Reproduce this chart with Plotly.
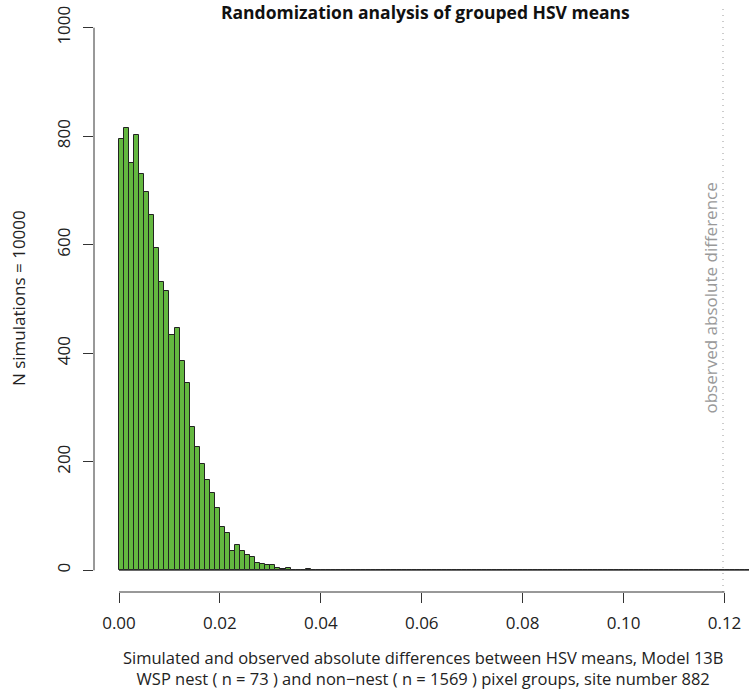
import numpy as np
import plotly.graph_objects as go

# ---- data ----
bin_width = 0.001
counts = [794, 816, 750, 803, 731, 698, 655, 594, 532, 515,
          433, 446, 386, 345, 264, 227, 196, 166, 142, 115,
          79, 68, 36, 46, 36, 28, 25, 14, 12, 9,
          9, 5, 2, 5, 1, 1, 0, 2]
n_bins_total = 125
counts_full = counts + [0] * (n_bins_total - len(counts))
bin_left = [i * bin_width for i in range(n_bins_total)]
bin_centers = [b + bin_width / 2 for b in bin_left]
observed_diff = 0.1197

x_ticks = [0.00, 0.02, 0.04, 0.06, 0.08, 0.10, 0.12]
x_tick_labels = ["0.00", "0.02", "0.04", "0.06", "0.08", "0.10", "0.12"]
y_ticks = [0, 200, 400, 600, 800, 1000]
y_tick_labels = ["0", "200", "400", "600", "800", "1000"]

title = "Randomization analysis of grouped HSV means"
x_title_1 = "Simulated and observed absolute differences between HSV means, Model 13B"
x_title_2 = "WSP nest ( n = 73 ) and non\u2212nest ( n = 1569 ) pixel groups, site number 882"
y_title = "N simulations = 10000"
obs_label = "observed absolute difference"

FONT = "Open Sans"
FS = 17
W, H = 749, 691
ML, MR, MT, MB = 94, 0, 6, 99
PW, PH = W - ML - MR, H - MT - MB


def px_to_paper_x(px):
    return (px - ML) / PW


def px_to_paper_y(py):
    return (H - MB - py) / PH


fig = go.Figure()

# baseline of empty bins
fig.add_trace(go.Scatter(
    x=[bin_left[0], bin_left[-1] + bin_width], y=[0, 0],
    mode="lines", line=dict(color="#444444", width=1),
    hoverinfo="skip", showlegend=False))

fig.add_trace(go.Bar(
    x=bin_centers, y=counts_full, width=bin_width,
    marker=dict(color="#64B840", line=dict(color="#222222", width=1)),
    showlegend=False))

# observed value line
fig.add_shape(type="line", x0=observed_diff, x1=observed_diff, xref="x",
              y0=0, y1=1, yref="paper",
              line=dict(color="#999999", width=1, dash="1px,5px"))

# R-style detached axis lines
fig.add_shape(type="line", x0=x_ticks[0], x1=x_ticks[-1], xref="x",
              y0=0, y1=0, yref="paper", line=dict(color="#333333", width=1))
fig.add_shape(type="line", x0=0, x1=0, xref="paper",
              y0=y_ticks[0], y1=y_ticks[-1], yref="y", line=dict(color="#333333", width=1))

fig.add_annotation(x=observed_diff, xref="x", xanchor="right", xshift=0,
                   y=px_to_paper_y(298), yref="paper", yanchor="middle",
                   text=obs_label, textangle=-90,
                   showarrow=False, font=dict(family=FONT, size=FS, color="#999999"))

# title and axis titles
fig.add_annotation(x=px_to_paper_x(425), xref="paper", y=px_to_paper_y(12), yref="paper",
                   xanchor="center", yanchor="middle", text="<b>" + title + "</b>",
                   showarrow=False, font=dict(family=FONT, size=17.5, color="#111111"))
fig.add_annotation(x=px_to_paper_x(423), xref="paper", y=px_to_paper_y(668), yref="paper",
                   xanchor="center", yanchor="middle",
                   text=x_title_1 + "<br>" + x_title_2, showarrow=False,
                   font=dict(family=FONT, size=16.5, color="#222222"))
fig.add_annotation(x=px_to_paper_x(18), xref="paper", y=px_to_paper_y(298), yref="paper",
                   xanchor="center", yanchor="middle", text=y_title, textangle=-90,
                   showarrow=False, font=dict(family=FONT, size=FS, color="#222222"))

fig.update_layout(
    width=W, height=H,
    margin=dict(l=ML, r=MR, t=MT, b=MB, autoexpand=False),
    paper_bgcolor="white", plot_bgcolor="white",
    bargap=0,
    font=dict(family=FONT, size=FS, color="#222222"),
    xaxis=dict(range=[-25 / 5046, PW / 5046 - 25 / 5046], showgrid=False, zeroline=False,
               showline=False, ticks="outside", ticklen=10, tickcolor="#333333",
               tickvals=x_ticks, ticktext=x_tick_labels, automargin=False,
               ticklabelstandoff=6,
               tickfont=dict(family=FONT, size=FS, color="#222222")),
    yaxis=dict(range=[-40, 1040], showgrid=False, zeroline=False,
               showline=False, ticks="outside", ticklen=10, tickcolor="#333333",
               tickvals=y_ticks, ticktext=y_tick_labels, tickangle=-90,
               ticklabelstandoff=6, automargin=False,
               tickfont=dict(family=FONT, size=FS, color="#222222")),
)

fig.write_html("out.html", config={"displayModeBar": False},
               post_script="document.body.style.margin='0';document.body.style.overflow='hidden';")
